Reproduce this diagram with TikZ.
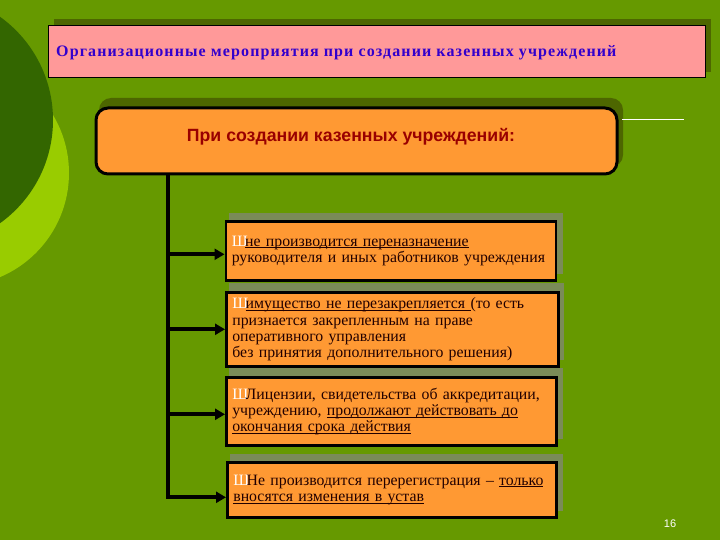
\documentclass[tikz,border=0pt]{standalone}
\usepackage{fontspec}
\setmainfont{Liberation Serif}
\newfontfamily\arialf{Liberation Sans}
\newfontfamily\titlef[LetterSpace=7.0]{Liberation Serif}
\usetikzlibrary{arrows.meta}
\definecolor{bg}{HTML}{669900}
\definecolor{darkc}{HTML}{336600}
\definecolor{lightc}{HTML}{99CC00}
\definecolor{olivesh}{HTML}{4D6600}
\definecolor{boxsh}{HTML}{7A8B58}
\definecolor{pinkf}{HTML}{FF9999}
\definecolor{titleblue}{HTML}{3300CC}
\definecolor{orangef}{HTML}{FF9933}
\definecolor{hdrred}{HTML}{990000}
\definecolor{boxtext}{HTML}{220000}
\tikzset{
  itembox/.style={draw=black, line width=2.6pt, fill=orangef, anchor=north west,
    align=left, inner xsep=6pt, inner ysep=0pt, text=boxtext,
    font=\fontsize{15.8}{16.2}\selectfont},
  conn/.style={line width=4pt, -{Triangle[length=10pt,width=11pt]}},
  shadowc/.style={fill=boxsh}
}
\newcommand\blt{{\color{white}Ш}\hspace{-2.5pt}}
\newcommand\ulx[1]{\leavevmode\setbox0\hbox{#1}\rlap{\rule[-2.2pt]{\wd0}{0.9pt}}\box0}
\begin{document}
\begin{tikzpicture}[x=1pt,y=-1pt]
\fill[bg] (0,0) rectangle (720,540);
\useasboundingbox (0,0) rectangle (720,540);
% decorative circles
\fill[lightc] (-44,173) circle (113);
\fill[darkc] (-74,120) circle (127);
% title
\fill[olivesh] (54,19) rectangle (711,72);
\node[draw=black, line width=1pt, fill=pinkf, minimum width=657pt, minimum height=52pt,
  anchor=north west, inner sep=0pt] (title) at (48,25) {};
\node[anchor=base west, text=titleblue, inner sep=0pt,
  font=\titlef\fontsize{16}{18}\selectfont\bfseries] (titletext) at (56,56.5)
  {Организационные мероприятия при создании казенных учреждений};
% header
\fill[olivesh, rounded corners=12pt] (99,98) rectangle (623,167);
\node[draw=black, line width=3pt, fill=orangef, rounded corners=12pt,
  minimum width=521pt, minimum height=66pt, anchor=north west, inner sep=0pt] (hdr) at (94.5,106.5) {};
\node[anchor=base, inner sep=0pt, text=hdrred,
  font=\arialf\bfseries\fontsize{17.7}{20}\selectfont] (hdrtext) at (351,142)
  {При создании казенных учреждений:};
\coordinate (wl) at (684,120);
\draw[white, line width=1pt] (622,120) -- (wl);
% item shadows
\fill[shadowc] (229,213) rectangle (563,274);
\fill[shadowc] (229,283) rectangle (564,360);
\fill[shadowc] (229,368) rectangle (563,439);
\fill[shadowc] (230,454) rectangle (563,511);
% items
\node[itembox, minimum height=59pt, text width=318pt] (b1) at (224.5,220)
  {\blt\ulx{не производится переназначение}\\руководителя и иных работников учреждения};
\node[itembox, minimum height=74pt, text width=320pt] (b2) at (225,291)
  {\blt\ulx{имущество не перезакрепляется\ }(то есть\\признается закрепленным на праве\\оперативного управления\\без принятия дополнительного решения)};
\node[itembox, minimum height=68pt, text width=318pt] (b3) at (225,376)
  {\blt Лицензии, свидетельства об аккредитации,\\учреждению, \ulx{продолжают действовать до}\\\ulx{окончания срока действия}};
\node[itembox, minimum height=55pt, text width=317pt] (b4) at (226,461)
  {\blt Не производится перерегистрация -- \ulx{только}\\\ulx{вносятся изменения в устав}};
% connectors
\coordinate (trunk) at (168,173);
\draw[conn] (trunk) |- ([yshift=-7.5pt]b4.west);
\draw[conn] ([yshift=-3.5pt]b1.west -| trunk) -- ([yshift=-3.5pt]b1.west);
\draw[conn] (b2.west -| trunk) -- (b2.west);
\draw[conn] ([yshift=-3pt]b3.west -| trunk) -- ([yshift=-3pt]b3.west);
% page number
\node[text=white, font=\arialf\fontsize{11}{13}\selectfont, inner sep=0pt] (pg) at (670,524) {16};
\end{tikzpicture}
\end{document}
